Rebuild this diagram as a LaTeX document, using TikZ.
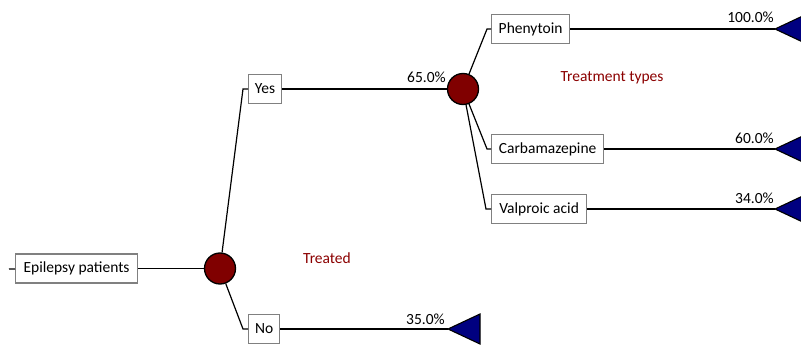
\documentclass[tikz,border=0pt]{standalone}
\usepackage{fontspec}
\setmainfont{Carlito}
\definecolor{chance}{HTML}{800000}
\definecolor{term}{HTML}{000080}
\definecolor{boxline}{HTML}{808080}
\definecolor{lbl}{HTML}{8B0000}
\begin{document}
\begin{tikzpicture}[
  font=\fontsize{15.5}{18}\selectfont,
  branch/.style={draw=boxline,line width=1.2pt,fill=white,rectangle,minimum height=29pt,inner xsep=3pt,inner ysep=0pt,anchor=west},
  chancenode/.style={circle,draw=black,line width=1.3pt,fill=chance,minimum size=31pt,inner sep=0pt},
  termtri/.style={draw=black,line width=1.1pt,fill=term},
  edge/.style={draw=black,line width=1.2pt},
  prob/.style={anchor=base east,inner sep=0pt},
  note/.style={text=lbl,inner sep=0pt}]
\useasboundingbox (0pt,0pt) rectangle (801pt,-345pt);
\clip (0pt,0pt) rectangle (801pt,-345pt);

% tree nodes
\node[branch,minimum width=122pt] (epi) at (15pt,-268.5pt) {Epilepsy patients};
\node[chancenode] (c1) at (220pt,-268.5pt) {};
\node[branch,minimum width=33pt] (yes) at (248pt,-89pt) {Yes};
\node[branch,minimum width=31pt] (no) at (248pt,-329pt) {No};
\node[chancenode] (c2) at (463pt,-89pt) {};
\node[branch,minimum width=78pt] (phen) at (491pt,-29pt) {Phenytoin};
\node[branch,minimum width=112pt] (carb) at (491pt,-149pt) {Carbamazepine};
\node[branch,minimum width=95pt] (valp) at (491pt,-209pt) {Valproic acid};

% bend points and terminal tips
\coordinate (stub) at (9pt,-269pt);
\coordinate (ycorner) at (243pt,-89pt);
\coordinate (ncorner) at (243pt,-329pt);
\coordinate (pcorner) at (487pt,-29pt);
\coordinate (ccorner) at (487pt,-149pt);
\coordinate (vcorner) at (486pt,-209pt);
\coordinate (tno) at (448pt,-329pt);
\coordinate (tphen) at (775pt,-29pt);
\coordinate (tcarb) at (775pt,-149pt);
\coordinate (tvalp) at (775pt,-209pt);

% connectors
\draw[edge] (stub) -- (epi);
\draw[edge] (epi) -- (c1);
\draw[edge] (c1) -- (ycorner) -- (yes);
\draw[edge] (c1) -- (ncorner) -- (no);
\draw[edge] (yes) -- (c2);
\draw[edge] (no) -- (tno);
\draw[edge] (c2) -- (pcorner) -- (phen);
\draw[edge] (c2) -- (ccorner) -- (carb);
\draw[edge] (c2) -- (vcorner) -- (valp);
\draw[edge] (phen) -- (tphen);
\draw[edge] (carb) -- (tcarb);
\draw[edge] (valp) -- (tvalp);

% terminal triangles
\draw[termtri] (tno) -- ++(32pt,15pt) -- ++(0pt,-30pt) -- cycle;
\draw[termtri] (tphen) -- ++(32pt,15pt) -- ++(0pt,-30pt) -- cycle;
\draw[termtri] (tcarb) -- ++(32pt,15pt) -- ++(0pt,-30pt) -- cycle;
\draw[termtri] (tvalp) -- ++(32pt,15pt) -- ++(0pt,-30pt) -- cycle;

% probabilities
\node[prob] (p65) at (446pt,-83pt) {65.0\%};
\node[prob] (p35) at (445pt,-324.5pt) {35.0\%};
\node[prob] (p100) at (774pt,-23pt) {100.0\%};
\node[prob] (p60) at (774pt,-143pt) {60.0\%};
\node[prob] (p34) at (774pt,-203pt) {34.0\%};

% decision labels
\node[note] (treated) at (327pt,-258pt) {Treated};
\node[note] (ttypes) at (612pt,-78pt) {Treatment types};
\end{tikzpicture}
\end{document}
